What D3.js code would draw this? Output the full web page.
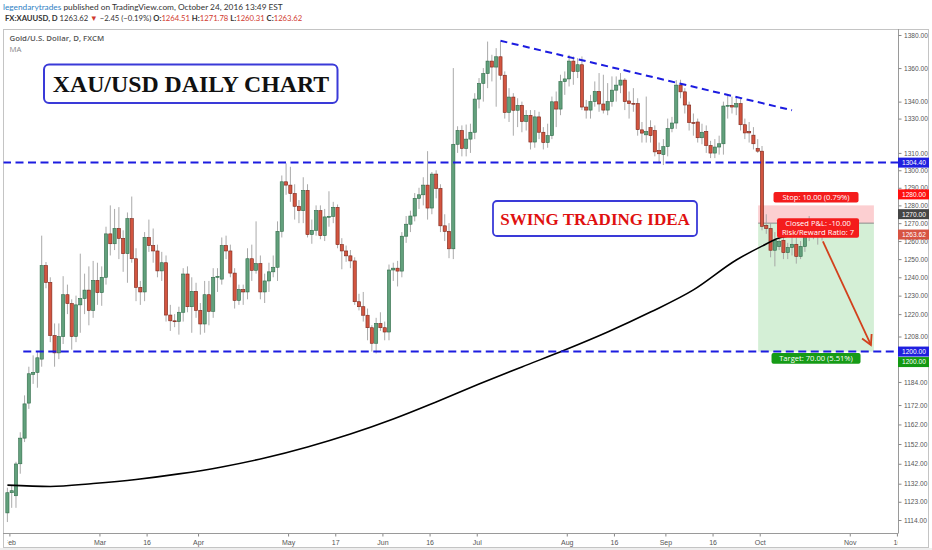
<!DOCTYPE html>
<html>
<head>
<meta charset="utf-8">
<script src="https://cdn.jsdelivr.net/npm/d3@7"></script>
<style>
  html, body { margin: 0; padding: 0; background: #fff; }
  svg { display: block; }
</style>
</head>
<body>
<svg id="chart" width="932" height="550"></svg>
<script>
// Daily XAU/USD bars, Feb 1 .. Oct 24 2016
const openPrices = [
  1117.5,1127.5,1126,1142,1155,1173,1188,1189,1196,1246.4,1237.2,1208.5,1199.3,1208,1230.5,1225.7,1208,1225,1228.4,1233,
  1222,1238.3,1231.6,1240,1264,1258.5,1267,1261.5,1253,1272.5,1250.2,1234.5,1232,1262,1257.5,1254.5,1243.5,1248,1219.5,1216.4,
  1216,1221,1241.8,1224,1232.3,1222,1214.7,1230.5,1221.5,1240,1239,1257.5,1254.5,1242.3,1227.4,1233.3,1232,1250.2,1243.8,1247.5,
  1232,1238,1243,1245.5,1265.4,1293.4,1291.5,1286.7,1279.5,1277,1288.5,1263.6,1266,1277,1263,1273.5,1273.8,1278.9,1258,1254.5,
  1251.8,1249,1226.7,1224,1219.4,1212.7,1204.4,1215,1212.7,1210.4,1244,1245,1243.4,1262.7,1269.4,1274,1284,1286,1291.5,1278.5,
  1297.8,1289.6,1268.5,1265.4,1255.7,1315,1323,1312.6,1318,1322,1341.5,1350.8,1356.7,1364.2,1360.6,1366.8,1355.7,1333.6,1342.7,1334.9,
  1337.8,1328.3,1331.9,1316.3,1331,1322,1316,1320,1339.9,1335.6,1351.9,1353.5,1364.2,1358,1362,1336.8,1335,1340,1346,1338.6,
  1335,1340,1346.8,1349.8,1352.8,1340.4,1339,1338.9,1323.4,1320.5,1324.7,1323,1311.4,1309,1313.6,1324.2,1327.4,1349.8,1345.8,1338,
  1327.7,1328,1318.8,1322.5,1314.3,1309.9,1313.4,1315.3,1337.4,1337.8,1336.8,1338.8,1326.4,1322.5,1320.3,1312.6,1311,1268.8,1267,1254.9,
  1257,1260.4,1253.6,1256.4,1258.2,1251.5,1257,1263.6,1269,1265,1264.51
];
const highPrices = [
  1130,1131,1143,1158,1177,1192,1198,1200,1263,1248.4,1240,1215,1215,1240.6,1236,1228,1230,1253,1242,1246,
  1249,1248,1246,1268,1280,1278,1279,1266,1276,1285,1256,1238,1265,1272,1267,1258,1254,1252,1225,1220,
  1224,1245,1246,1240,1237,1226,1238,1238,1245,1245,1262,1263,1258,1245,1236,1236,1256,1258,1271,1252,
  1242,1248,1252,1271,1297,1304,1302,1292,1283,1296,1292,1272,1280,1280,1278,1288,1282,1280.5,1261.6,1257.5,
  1255,1251,1231,1232,1223,1214,1218,1221,1216,1247,1248,1249,1265,1274,1277,1287,1290,1296,1311,1299,
  1300,1292,1275,1270,1360,1325.5,1326,1326.5,1327,1345,1354,1360,1376,1368,1372,1376,1358,1348,1345,1342,
  1340,1335,1335,1335,1334,1325,1327,1343,1346,1356,1358,1368,1367,1366,1367,1341,1344,1352,1357,1356,
  1351,1355,1355,1357,1354,1346,1348,1342,1328,1343,1329,1326,1316,1318,1330,1331,1352.8,1353,1348,1340,
  1333,1330,1327,1326,1317,1318,1320,1340,1344,1343,1343,1342,1330,1328,1325,1318,1314,1275,1270,1265,
  1263,1264,1259,1264,1262,1260,1266,1274,1272,1270,1271.78
];
const lowPrices = [
  1113,1120,1120,1137,1153,1170,1183,1181,1192,1234,1205,1192,1196,1204,1220,1201,1205,1210,1220,1214,
  1218,1225,1224.5,1236,1252,1255,1250,1243,1237,1248,1227,1225,1227,1254,1248,1240,1238,1216,1211,1213,
  1209,1216,1221,1210,1218,1209,1210,1214,1218,1232,1236,1250,1240,1223,1225,1225,1228,1238,1242,1228,
  1226,1232,1240,1238,1262,1286,1282,1272,1270,1270,1262,1258.5,1263,1261,1260,1268,1270,1256,1244.4,1248.5,
  1245,1225,1222,1216,1206,1200,1199,1211,1206,1206,1238,1235,1240,1259,1265,1271,1278,1280,1272,1275,
  1284,1265,1260,1250.5,1250,1310,1308,1308,1310,1318,1336,1340,1348,1352,1337,1353,1330,1328,1320,1325,
  1322,1323,1312,1313,1318,1312,1313,1318,1325,1332,1344,1349,1350,1354,1335,1330,1330,1337,1334,1333,
  1332,1337,1340,1345,1335,1330,1334,1320,1316,1316,1316,1308,1304,1303,1308,1322,1324,1342,1333,1323,
  1320,1316,1315,1310,1307,1307,1309,1309,1330,1333,1332,1323,1318,1316,1312,1310,1266,1264,1251,1246,
  1255,1250,1250,1252,1247.5,1250,1254,1260,1261,1258,1260.31
];
const closePrices = [
  1127.5,1128.5,1141.9,1155,1172.6,1188.3,1189,1196.7,1246.4,1237.2,1208.5,1199.3,1208,1230.5,1225.7,1208,1225,1228.4,1233,1222,
  1238.3,1231.6,1240,1264,1258.5,1267,1261.5,1253,1272.5,1250.2,1234.5,1232,1262,1257.5,1254.5,1243.5,1248,1219.5,1216.4,1216,
  1221,1241.8,1224,1232.3,1222,1214.7,1230.5,1221.5,1240,1240.5,1257.5,1254.5,1242.3,1227.4,1233.3,1232,1250.2,1243.8,1247.5,1232,
  1238,1243,1245.5,1265.4,1293.4,1291.5,1286.7,1279.5,1277,1288.5,1263.6,1266,1277,1263,1273.5,1273.8,1278.9,1258,1254.5,1251.8,
  1249,1226.7,1224,1219.4,1212.7,1204.4,1215,1212.7,1210.4,1244,1245,1243.4,1262.7,1269.4,1274,1284,1286,1291.5,1278.5,1297.8,
  1289.6,1268.5,1265.4,1255.7,1315,1323,1312.6,1318,1322,1341.5,1350.8,1356.7,1364.2,1360.6,1366.8,1355.7,1333.6,1342.7,1334.9,1337.8,
  1328.3,1331.9,1316.3,1331,1322,1316,1320,1339.9,1335.6,1351.9,1353.5,1364.2,1358,1362,1336.8,1335,1340,1346,1338.6,1335,
  1340,1346.8,1349.8,1352.8,1340,1338.9,1338.5,1323.5,1321.5,1322.4,1320,1310.6,1309.5,1313.6,1324.2,1327.4,1349.8,1345.8,1338,1327.7,
  1327.5,1318.8,1322,1314.3,1309.9,1313.4,1315.3,1337.4,1337.8,1336.8,1338.8,1326.4,1321.6,1321.6,1315.3,1311,1268.2,1267,1254.9,1260.4,
  1259.7,1253.6,1256.4,1258.2,1251.5,1257,1263.6,1269,1265,1267,1263.62
];

// moving average, sampled every 10 bars
const maIndex = [0,10,20,30,40,50,60,70,80,90,100,110,120,130,140,150,160,170,176,180,186,190];
const maValues = [1131.3,1130.6,1132.1,1134.1,1136.9,1140.4,1144.9,1150.5,1157.1,1164.8,1173.6,1182.9,
                  1191.9,1200.8,1210.4,1221.1,1233.1,1249.5,1257.2,1261.7,1263.9,1264.8];

const priceTicks = [1380,1360,1340,1330,1310,1300,1290,1280,1270,1260,1250,1240,1230,1220,1208,1200,
                    1184,1172,1162,1152,1142,1132,1123,1114];
const hiddenTickLabels = [1200]; // covered by the level labels
const timeTickIndex = [0,21,32,44,65,76,87,98,109,130,141,153,164,175,196,207];
const timeTickLabels = ["Feb","Mar","16","Apr","May","17","Jun","16","Jul","Aug","16","Sep","16","Oct","Nov","16"];

// drawings
const resistanceLevel = 1304.40;
const supportLevel = 1200.00;
const supportStartIndex = 3.7;
const trendIndex = [115, 183];
const trendPrices = [1376.5, 1334.9];
const stopPrice = 1280, entryPrice = 1270, targetPrice = 1200;
const positionIndex = [175.1, 202.1];
const arrowIndex = [190.2, 201.4];
const arrowPrices = [1259.8, 1203.5];
const axisLabelPrices = [1304.40, 1280.00, 1270.00, 1263.62, 1200.00, 1200.00];


class CandleChart {

  constructor(_config) {
    this.config = {
      parentElement: _config.parentElement,
      left: 3, top: 29, right: 898, bottom: 533, outerRight: 929, outerBottom: 548
    };
    this.initVis();
  }

  initVis() {
    let vis = this;
    const c = vis.config;
    vis.svg = d3.select(c.parentElement);

    vis.bars = openPrices.map((o, i) => ({
      i: i, o: o, h: highPrices[i], l: lowPrices[i], c: closePrices[i]
    }));

    // bar index -> pixel, log price -> pixel
    vis.x = d3.scaleLinear().domain([0, 190]).range([7.4, 7.4 + 190 * 4.2875]);
    vis.y = d3.scaleLog().domain([1114, 1380]).range([520, 35]);

    vis.svg.append('rect').attr('width', 932).attr('height', 550).attr('fill', '#fff');
    vis.svg.append('rect').attr('x', 0).attr('y', c.outerBottom).attr('width', 932).attr('height', 550 - c.outerBottom)
      .attr('fill', '#eeeeee');

    let defs = vis.svg.append('defs');
    defs.append('clipPath').attr('id', 'plot-clip').append('rect')
      .attr('x', c.left + 0.5).attr('y', c.top + 0.5)
      .attr('width', c.right - c.left - 0.5).attr('height', c.bottom - c.top - 0.5);
    defs.append('clipPath').attr('id', 'time-clip').append('rect')
      .attr('x', c.left + 4.5).attr('y', c.bottom)
      .attr('width', c.right - c.left - 4.5).attr('height', c.outerBottom - c.bottom);

    vis.renderHeader();
    vis.renderVis();
    vis.renderAxes();
  }

  renderHeader() {
    let vis = this;
    let h1 = vis.svg.append('text').attr('x', 3).attr('y', 10)
      .style('font-family', 'Lato, "Open Sans", sans-serif').style('font-size', '8.3px').attr('fill', '#333');
    h1.append('tspan').attr('fill', '#2f7fc4').text('legendarytrades');
    h1.append('tspan').text(' published on TradingView.com, October 24, 2016 13:49 EST');

    let h2 = vis.svg.append('text').attr('x', 5).attr('y', 21)
      .style('font-family', 'Lato, "Open Sans", sans-serif').style('font-size', '7.7px').attr('fill', '#333');
    const red = '#d13a2f';
    h2.append('tspan').attr('font-weight', 'bold').text('FX:XAUUSD, D ');
    h2.append('tspan').text('1263.62 ');
    h2.append('tspan').attr('fill', red).text('▼');
    h2.append('tspan').text(' \u22122.45 (\u22120.19%) ');
    [['O:', '1264.51'], ['H:', '1271.78'], ['L:', '1260.31'], ['C:', '1263.62']].forEach((p, k) => {
      h2.append('tspan').attr('font-weight', 'bold').text((k ? ' ' : '') + p[0]);
      h2.append('tspan').attr('fill', red).text(p[1]);
    });
  }

  renderVis() {
    let vis = this;
    const c = vis.config;
    const x = vis.x, y = vis.y;

    vis.svg.append('rect')
      .attr('x', c.left + 0.5).attr('y', c.top + 0.5)
      .attr('width', c.outerRight - c.left - 1).attr('height', c.outerBottom - c.top - 1)
      .attr('fill', 'none').attr('stroke', '#c4c4c4');

    let plot = vis.svg.append('g').attr('clip-path', 'url(#plot-clip)');

    // long position tool (risk / reward zones)
    const px0 = x(positionIndex[0]), px1 = x(positionIndex[1]);
    plot.append('rect').attr('x', px0).attr('width', px1 - px0)
      .attr('y', y(stopPrice)).attr('height', y(entryPrice) - y(stopPrice))
      .attr('fill', '#fccfd1');
    plot.append('rect').attr('x', px0).attr('width', px1 - px0)
      .attr('y', y(entryPrice)).attr('height', y(targetPrice) - y(entryPrice))
      .attr('fill', '#d4efd6');
    plot.append('line').attr('x1', px0).attr('x2', px1)
      .attr('y1', y(entryPrice)).attr('y2', y(entryPrice))
      .attr('stroke', '#8a8a8a').attr('stroke-width', 1);

    // candles
    plot.append('g').selectAll('line')
      .data(vis.bars)
      .join('line')
        .attr('x1', d => x(d.i)).attr('x2', d => x(d.i))
        .attr('y1', d => y(d.h)).attr('y2', d => y(d.l))
        .attr('stroke', '#a0a0a0').attr('stroke-width', 0.9);

    plot.append('g').selectAll('rect')
      .data(vis.bars)
      .join('rect')
        .attr('x', d => x(d.i) - 1.6)
        .attr('width', 3.2)
        .attr('y', d => y(Math.max(d.o, d.c)))
        .attr('height', d => Math.max(0.9, Math.abs(y(d.o) - y(d.c))))
        .attr('fill', d => d.c >= d.o ? '#62a07c' : '#d25540')
        .attr('stroke', d => d.c >= d.o ? '#2f6b48' : '#7a2418')
        .attr('stroke-width', 0.6);

    // moving average
    const maLine = d3.line()
      .x((d, k) => x(maIndex[k]))
      .y(d => y(d))
      .curve(d3.curveMonotoneX);
    plot.append('path').datum(maValues)
      .attr('d', maLine)
      .attr('fill', 'none').attr('stroke', '#000').attr('stroke-width', 1.6);

    // horizontal levels and trend line
    const blue = '#1c1ce0';
    plot.append('line')
      .attr('x1', c.left).attr('x2', c.right)
      .attr('y1', y(resistanceLevel)).attr('y2', y(resistanceLevel))
      .attr('stroke', blue).attr('stroke-width', 2).attr('stroke-dasharray', '8,4.5');
    plot.append('line')
      .attr('x1', x(supportStartIndex)).attr('x2', c.right)
      .attr('y1', y(supportLevel)).attr('y2', y(supportLevel))
      .attr('stroke', blue).attr('stroke-width', 2).attr('stroke-dasharray', '8,4.5');
    plot.append('line')
      .attr('x1', x(trendIndex[0])).attr('x2', x(trendIndex[1]))
      .attr('y1', y(trendPrices[0])).attr('y2', y(trendPrices[1]))
      .attr('stroke', blue).attr('stroke-width', 2).attr('stroke-dasharray', '7,4.5');

    // arrow
    const ax0 = x(arrowIndex[0]), ay0 = y(arrowPrices[0]);
    const ax1 = x(arrowIndex[1]), ay1 = y(arrowPrices[1]);
    const ang = Math.atan2(ay1 - ay0, ax1 - ax0);
    const headLen = 11;
    const arrowColor = '#d2401c';
    plot.append('line').attr('x1', ax0).attr('y1', ay0).attr('x2', ax1).attr('y2', ay1)
      .attr('stroke', arrowColor).attr('stroke-width', 1.8);
    plot.append('path')
      .attr('d', `M${ax1 + headLen * Math.cos(ang + Math.PI - 0.5)},${ay1 + headLen * Math.sin(ang + Math.PI - 0.5)}` +
                 `L${ax1},${ay1}` +
                 `L${ax1 + headLen * Math.cos(ang + Math.PI + 0.5)},${ay1 + headLen * Math.sin(ang + Math.PI + 0.5)}`)
      .attr('fill', 'none').attr('stroke', arrowColor).attr('stroke-width', 1.8);

    // position labels
    const cx = (px0 + px1) / 2;
    const labelFont = '"Open Sans", sans-serif';
    vis.pill(cx, y(stopPrice) - 13.5, 85, 10.5, '#f41c1c', ['Stop: 10.00 (0.79%)'], labelFont);
    vis.pill(cx + 2, y(entryPrice) - 5, 82, 19.5, '#f41c1c', ['Closed P&L: -10.00', 'Risk/Reward Ratio: 7'], labelFont);
    vis.pill(cx, y(targetPrice) + 1.5, 89, 10.8, '#169b16', ['Target: 70.00 (5.51%)'], labelFont);

    // title boxes
    vis.svg.append('rect').attr('x', 44).attr('y', 64.5).attr('width', 293.5).attr('height', 38.5)
      .attr('rx', 5).attr('fill', '#fff').attr('stroke', '#3a3ad8').attr('stroke-width', 2);
    vis.svg.append('text').attr('x', 191).attr('y', 92.3).attr('text-anchor', 'middle')
      .style('font-family', '"Liberation Serif", "DejaVu Serif", serif').style('font-weight', 'bold')
      .style('font-size', '23.8px').attr('fill', '#111').text('XAU/USD DAILY CHART');

    vis.svg.append('rect').attr('x', 493).attr('y', 201).attr('width', 204).attr('height', 35)
      .attr('rx', 4).attr('fill', '#fff').attr('stroke', '#3a3ad8').attr('stroke-width', 1.8);
    vis.svg.append('text').attr('x', 595).attr('y', 224.5).attr('text-anchor', 'middle')
      .style('font-family', '"Liberation Serif", "DejaVu Serif", serif').style('font-weight', 'bold')
      .style('font-size', '17px').attr('fill', '#e01010').text('SWING TRADING IDEA');

    // legend
    vis.svg.append('text').attr('x', 9.5).attr('y', 41)
      .style('font-family', '"Open Sans", sans-serif').style('font-size', '7.8px').style('font-weight', '600')
      .attr('fill', '#555').text('Gold/U.S. Dollar, D, FXCM');
    vis.svg.append('text').attr('x', 9.5).attr('y', 51.5)
      .style('font-family', '"Open Sans", sans-serif').style('font-size', '7.8px')
      .attr('fill', '#888').text('MA');
  }

  pill(cx, top, w, h, color, lines, font) {
    let vis = this;
    vis.svg.append('rect').attr('x', cx - w / 2).attr('y', top).attr('width', w).attr('height', h)
      .attr('rx', 2).attr('fill', color);
    lines.forEach((t, k) => {
      vis.svg.append('text').attr('x', cx).attr('y', top + 8 + k * 8.6)
        .attr('text-anchor', 'middle')
        .style('font-family', font).style('font-size', '7.6px')
        .attr('fill', '#fff').text(t);
    });
  }

  renderAxes() {
    let vis = this;
    const c = vis.config;
    const x = vis.x, y = vis.y;
    const axisFont = '"Liberation Sans", Arial, sans-serif';

    // price axis
    vis.svg.append('line').attr('x1', c.right + 0.5).attr('x2', c.right + 0.5)
      .attr('y1', c.top).attr('y2', c.bottom).attr('stroke', '#9a9a9a');
    let yAxis = vis.svg.append('g').attr('transform', `translate(${c.right + 0.5},0)`)
      .call(d3.axisRight(y).tickValues(priceTicks).tickSize(3)
        .tickFormat(d => hiddenTickLabels.includes(d) ? '' : d3.format('.2f')(d)));
    yAxis.select('.domain').remove();
    yAxis.selectAll('line').attr('stroke', '#888');
    yAxis.selectAll('text').attr('x', 5.5)
      .style('font-family', axisFont).style('font-size', '6.6px').attr('fill', '#555');

    // time axis
    vis.svg.append('line').attr('x1', c.left).attr('x2', c.right + 0.5)
      .attr('y1', c.bottom + 0.5).attr('y2', c.bottom + 0.5).attr('stroke', '#9a9a9a');
    let tAxis = vis.svg.append('g').attr('clip-path', 'url(#time-clip)');
    tAxis.selectAll('line')
      .data(timeTickIndex)
      .join('line')
        .attr('x1', d => x(d) + 2.5).attr('x2', d => x(d) + 2.5)
        .attr('y1', c.bottom + 1).attr('y2', c.bottom + 3.5)
        .attr('stroke', '#888');
    tAxis.selectAll('text')
      .data(timeTickIndex)
      .join('text')
        .attr('x', d => x(d) + 2.5).attr('y', c.bottom + 11.5)
        .attr('text-anchor', 'middle')
        .style('font-family', axisFont).style('font-size', '7px').attr('fill', '#555')
        .text((d, k) => timeTickLabels[k]);

    // coloured price labels on the axis
    const labelStyles = [
      { fill: '#1f1fe0', shift: 0 },
      { fill: '#ff1010', shift: -11 },
      { fill: '#454545', shift: -9 },
      { fill: '#d75442', shift: 0 },
      { fill: '#1f1fe0', shift: 0 },
      { fill: '#139913', shift: 10.5 }
    ];
    axisLabelPrices.forEach((p, k) => {
      const cy = y(p) + labelStyles[k].shift;
      vis.svg.append('rect').attr('x', c.right).attr('y', cy - 5).attr('width', c.outerRight - c.right)
        .attr('height', 10).attr('fill', labelStyles[k].fill);
      vis.svg.append('text').attr('x', c.right + 4).attr('y', cy + 2.4)
        .style('font-family', axisFont).style('font-size', '6.6px').attr('fill', '#fff')
        .text(d3.format('.2f')(p));
    });
  }
}

const chart = new CandleChart({ parentElement: '#chart' });
</script>
</body>
</html>
